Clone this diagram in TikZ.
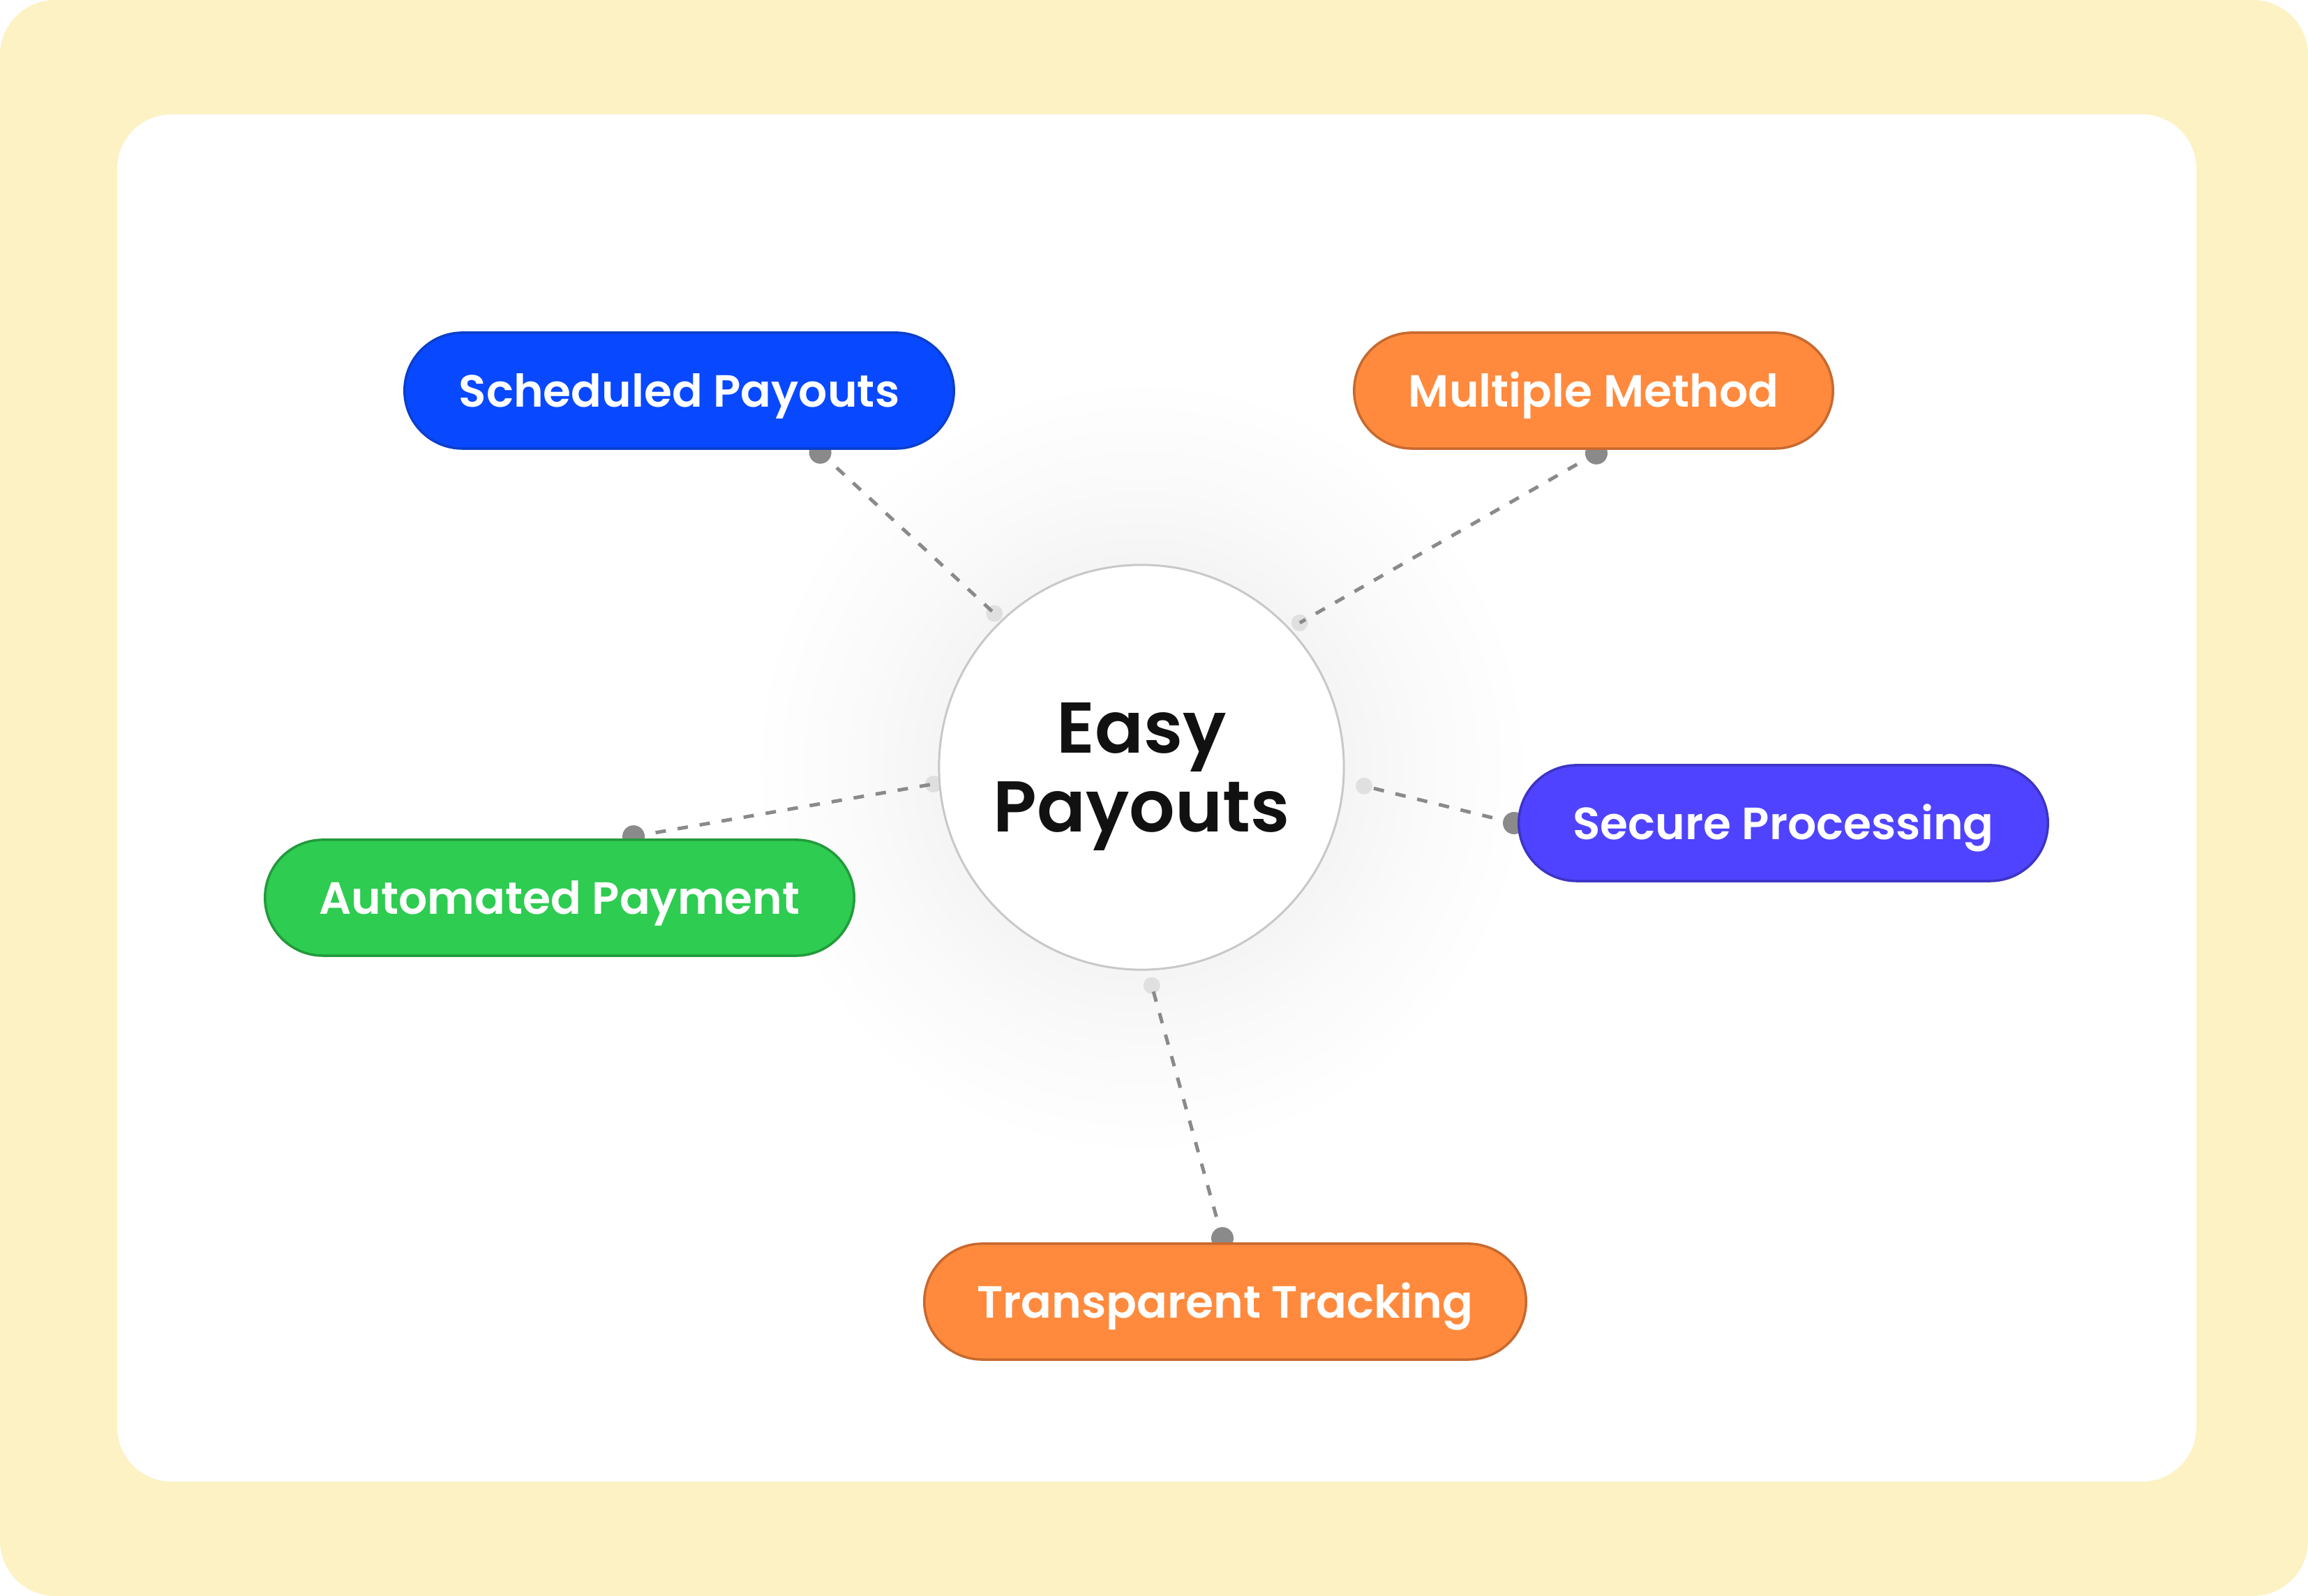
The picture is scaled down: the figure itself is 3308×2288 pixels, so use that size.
\documentclass[tikz,border=0pt]{standalone}
\usepackage{fontspec}
\setmainfont{Poppins}[BoldFont={Poppins SemiBold}]
\usetikzlibrary{calc}
\definecolor{paper}{HTML}{FCF2C4}
\definecolor{ink}{HTML}{111111}
\definecolor{ringgray}{HTML}{C8C8C8}
\definecolor{linkgray}{HTML}{8A8A8A}
\definecolor{blueFill}{HTML}{0849FF}
\definecolor{blueEdge}{HTML}{0B3FCC}
\definecolor{orangeFill}{HTML}{FF8A3D}
\definecolor{orangeEdge}{HTML}{C8692F}
\definecolor{violetFill}{HTML}{4F43FF}
\definecolor{violetEdge}{HTML}{3D34C4}
\definecolor{greenFill}{HTML}{2ECC51}
\definecolor{greenEdge}{HTML}{239A3C}
\pgfdeclareradialshading{halo}{\pgfpoint{0bp}{0bp}}{color(0bp)=(gray!9); color(13bp)=(gray!8); color(18bp)=(gray!4); color(25bp)=(white); color(50bp)=(white)}
\pgfdeclarelayer{bg}
\pgfdeclarelayer{back}
\pgfsetlayers{bg,back,main}
\begin{document}
\begin{tikzpicture}[x=0.01cm,y=0.01cm,
    pill/.style={rounded corners=0.83cm,minimum height=1.66cm,inner xsep=0pt,inner ysep=0pt,
      text height=0.47cm,text depth=0pt,line width=0.035cm,text=white,
      font=\fontsize{18.4pt}{22pt}\selectfont\bfseries},
    link/.style={draw=linkgray,line width=0.05cm,dash pattern=on 0.15cm off 0.17cm},
    knob/.style={fill=linkgray},
    ghost/.style={fill=linkgray,opacity=0.2}]
  \useasboundingbox (0,0) rectangle (3308,2288);
  \begin{pgfonlayer}{bg}
    \fill[paper,rounded corners=0.79cm] (0,0) rectangle (3308,2288);
    \fill[white,rounded corners=0.78cm] (168,164) rectangle (3148,2124);
    \shade[shading=halo] (1636,1188) circle (5.6cm);
  \end{pgfonlayer}
  % hub and topics
  \node[circle,draw=ringgray,line width=0.03cm,fill=white,minimum size=5.8cm,inner sep=0pt,
    align=center,text depth=0pt,text=ink,font=\fontsize{29.3pt}{31.9pt}\selectfont\bfseries] (hub) at (1636,1188) {Easy\\Payouts};
  \node[pill,fill=blueFill,draw=blueEdge,minimum width=7.87cm] (sched) at (973.5,1728) {Scheduled Payouts};
  \node[pill,fill=orangeFill,draw=orangeEdge,minimum width=6.86cm] (multi) at (2284,1728) {Multiple Method};
  \node[pill,fill=violetFill,draw=violetEdge,minimum width=7.58cm] (secure) at (2556,1108) {Secure Processing};
  \node[pill,fill=greenFill,draw=greenEdge,minimum width=8.44cm] (auto) at (802,1001) {Automated Payment};
  \node[pill,fill=orangeFill,draw=orangeEdge,minimum width=8.62cm] (track) at (1756,422) {Transparent Tracking};
  % connector ends
  \coordinate (d1) at ([xshift=2.02cm,yshift=-0.04cm]sched.south);
  \coordinate (d2) at ([xshift=0.04cm,yshift=-0.05cm]multi.south);
  \coordinate (d3) at ([xshift=-0.05cm]secure.west);
  \coordinate (d4) at ([xshift=1.06cm,yshift=0.03cm]auto.north);
  \coordinate (d5) at ([xshift=-0.04cm,yshift=0.06cm]track.north);
  \coordinate (e1) at ($(hub.center)+(133.7:3.05cm)$);
  \coordinate (e2) at ($(hub.center)+(42.4:3.07cm)$);
  \coordinate (e3) at ($(hub.center)+(-4.8:3.2cm)$);
  \coordinate (e4) at ($(hub.center)+(184.6:2.99cm)$);
  \coordinate (e5) at ($(hub.center)+(-87.3:3.13cm)$);
  \begin{pgfonlayer}{back}
    \foreach \a/\b in {d1/e1,d2/e2,d3/e3,d4/e4,d5/e5} {
      \draw[link] (\a) -- (\b);
      \fill[knob] (\a) circle (0.16cm);
      \fill[ghost] (\b) circle (0.12cm);
    }
  \end{pgfonlayer}
\end{tikzpicture}
\end{document}
